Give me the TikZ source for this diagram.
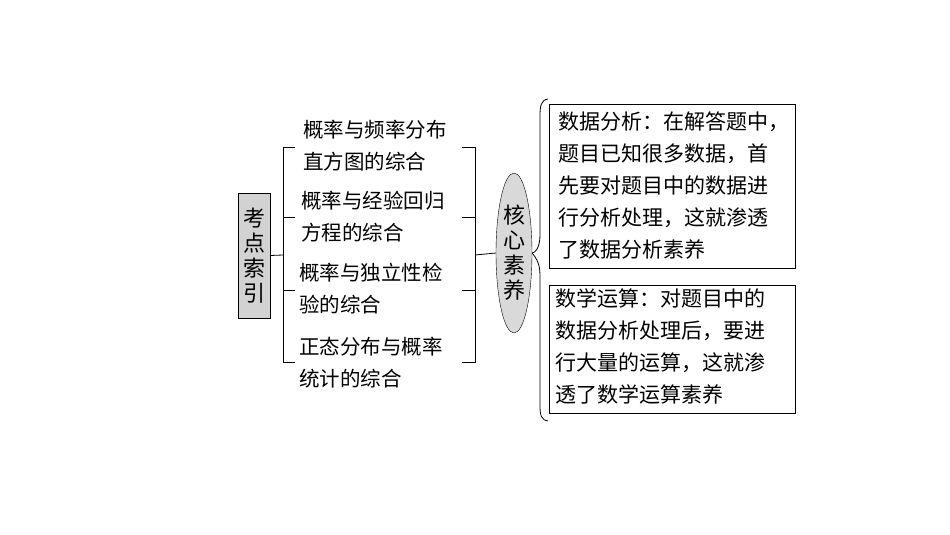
\documentclass[tikz,border=0pt]{standalone}
\usepackage{fontspec}
\setmainfont{Noto Sans CJK SC}
\usepackage{tikz}
\usetikzlibrary{shapes.geometric, positioning}
\tikzstyle{itemtext} = [anchor=west, inner sep=0pt, font=\fontsize{20.5pt}{32pt}\selectfont, align=left]
\tikzstyle{notetext} = [anchor=north west, inner sep=0pt, font=\fontsize{21pt}{32pt}\selectfont, align=left]
\tikzstyle{indexbox} = [rectangle, draw=black, fill=gray!35, minimum width=32pt, minimum height=125pt, inner sep=0pt, align=center, font=\fontsize{22pt}{25pt}\selectfont]
\tikzstyle{core} = [ellipse, draw=black, fill=gray!30, minimum width=36pt, minimum height=160pt, inner sep=0pt, align=center, font=\fontsize{22pt}{25pt}\selectfont]
\tikzstyle{notebox} = [rectangle, draw=black, minimum width=246pt, inner sep=0pt]
\tikzstyle{link} = [line width=0.8pt]

\begin{document}
\begin{tikzpicture}[x=1pt, y=-1pt]
		\useasboundingbox (0,0) rectangle (950,535);
		
		\node (index) [indexbox] at (254,255.5) {考\\点\\索\\引};
		\node (ca) [itemtext] at (303,146) {概率与频率分布\\直方图的综合};
		\node (cb) [itemtext] at (301,217) {概率与经验回归\\方程的综合};
		\node (cc) [itemtext] at (299,289) {概率与独立性检\\验的综合};
		\node (cd) [itemtext] at (299,363) {正态分布与概率\\统计的综合};
		\node (heart) [core] at (514,253) {核\\心\\素\\养};
		\node (na) [notebox, minimum height=164pt, anchor=north west] at (549,104) {};
		\node (nb) [notebox, minimum height=128pt, anchor=north west] at (549,285) {};
		\node (ta) [notetext] at (558,112) {数据分析：在解答题中，\\题目已知很多数据，首\\先要对题目中的数据进\\行分析处理，这就渗透\\了数据分析素养};
		\node (tb) [notetext] at (555,288) {数学运算：对题目中的\\数据分析处理后，要进\\行大量的运算，这就渗\\透了数学运算素养};
		
		\coordinate (lb) at (283,255);
		\coordinate (rb) at (475,255);
		\draw [link] (index.east) -- (lb);
		\draw [link] (295,147) -- (283,147) -- (283,362) -- (295,362);
		\draw [link] (283,217) -- (295,217);
		\draw [link] (283,290) -- (295,290);
		\draw [link] (462,147) -- (475,147) -- (475,362) -- (462,362);
		\draw [link] (462,217) -- (475,217);
		\draw [link] (462,290) -- (475,290);
		\draw [link] (rb) -- (heart.west);
		\draw [link] (548,99) .. controls (541,100) and (540,106) .. (540,116) -- (540,235) .. controls (540,248) and (535,253) .. (heart.east);
		\draw [link] (heart.east) .. controls (535,257) and (540,262) .. (540,275) -- (540,405) .. controls (540,415) and (541,420) .. (548,421);
		
	\end{tikzpicture}
\end{document}
